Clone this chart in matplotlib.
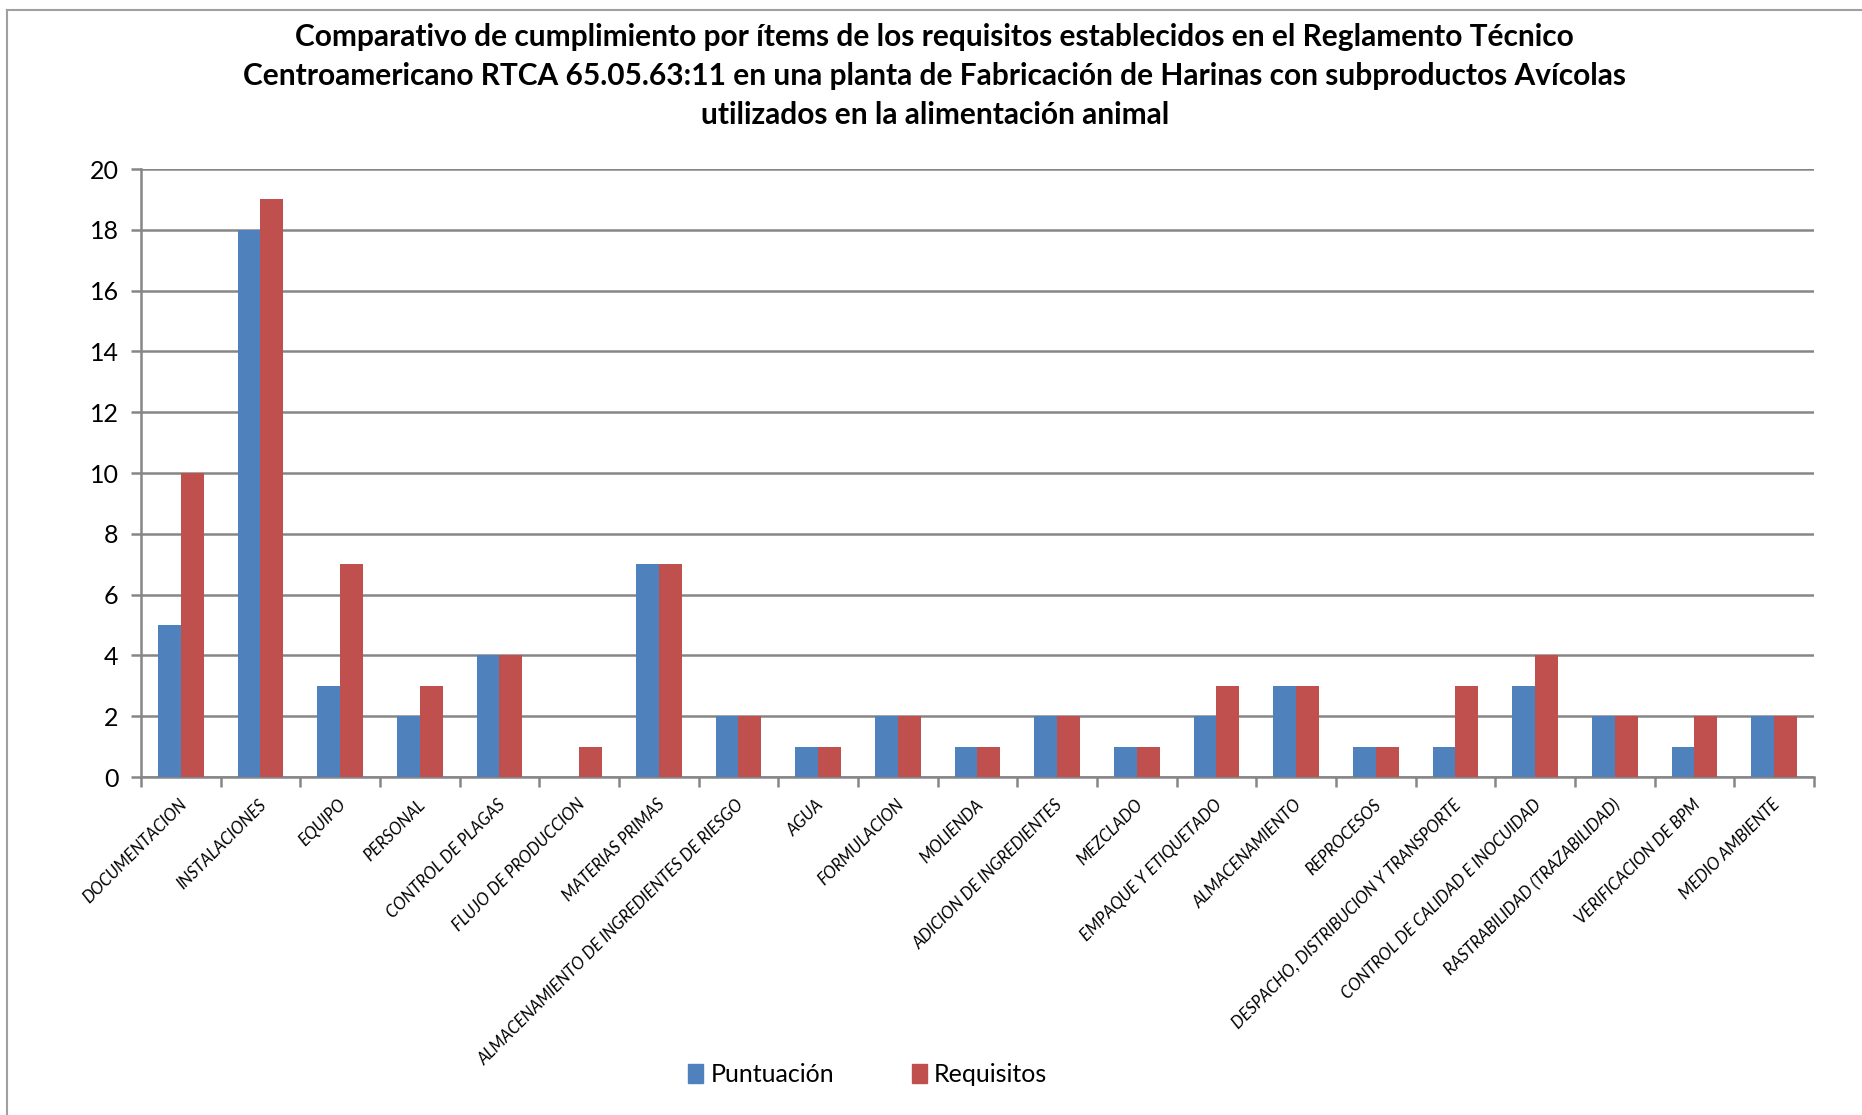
import numpy as np
import matplotlib
matplotlib.use("Agg")
import matplotlib.pyplot as plt
from matplotlib.lines import Line2D
from matplotlib.patches import Patch

"""Chart categories (x axis), in display order"""
CATEGORIES = [
    "DOCUMENTACION", "INSTALACIONES", "EQUIPO", "PERSONAL",
    "CONTROL DE PLAGAS", "FLUJO DE PRODUCCION", "MATERIAS PRIMAS",
    "ALMACENAMIENTO DE INGREDIENTES DE RIESGO", "AGUA", "FORMULACION",
    "MOLIENDA", "ADICION DE INGREDIENTES", "MEZCLADO",
    "EMPAQUE Y ETIQUETADO", "ALMACENAMIENTO", "REPROCESOS",
    "DESPACHO, DISTRIBUCION Y TRANSPORTE", "CONTROL DE CALIDAD E INOCUIDAD",
    "RASTRABILIDAD (TRAZABILIDAD)", "VERIFICACION DE BPM", "MEDIO AMBIENTE",
]

"""Score obtained per item"""
PUNTUACION = [5, 18, 3, 2, 4, 0, 7, 2, 1, 2, 1, 2, 1, 2, 3, 1, 1, 3, 2, 1, 2]

"""Number of requirements per item"""
REQUISITOS = [10, 19, 7, 3, 4, 1, 7, 2, 1, 2, 1, 2, 1, 3, 3, 1, 3, 4, 2, 2, 2]

Y_TICKS = [0, 2, 4, 6, 8, 10, 12, 14, 16, 18, 20]

TITLE = ("Comparativo de cumplimiento por ítems de los requisitos establecidos en el Reglamento Técnico\n"
         "Centroamericano RTCA 65.05.63:11 en una planta de Fabricación de Harinas con subproductos Avícolas\n"
         "utilizados en la alimentación animal")

BLUE = "#4F81BD"
RED = "#C0504D"
GRID = "#868686"
FONT = "Lato"

plt.rcParams["font.family"] = [FONT, "DejaVu Sans"]

fig = plt.figure(figsize=(18.62, 11.15), dpi=100)
ax = fig.add_axes([0.0757, 0.3031, 0.8985, 0.5453])

x = np.arange(len(CATEGORIES))
w = 1 / 3.5
ax.bar(x - w / 2, PUNTUACION, w, color=BLUE, zorder=3, label="Puntuación")
ax.bar(x + w / 2, REQUISITOS, w, color=RED, zorder=3, label="Requisitos")

ax.set_xlim(-0.5, len(CATEGORIES) - 0.5)
ax.set_ylim(0, 20)
ax.set_yticks(Y_TICKS)
ax.set_yticklabels([str(v) for v in Y_TICKS], fontsize=18)
ax.yaxis.grid(True, color=GRID, linewidth=1.8, zorder=0)
ax.set_axisbelow(True)

# ticks sit at category boundaries, labels at category centres
ax.set_xticks(np.arange(len(CATEGORIES) + 1) - 0.5)
ax.set_xticklabels([])
ax.tick_params(axis="x", length=7, width=1.8, color=GRID, direction="out")
ax.tick_params(axis="y", length=7, width=1.8, color=GRID, direction="out", pad=9)

for sp in ["top", "right"]:
    ax.spines[sp].set_visible(False)
for sp in ["left", "bottom"]:
    ax.spines[sp].set_color(GRID)
    ax.spines[sp].set_linewidth(1.8)

for i, name in enumerate(CATEGORIES):
    ax.annotate(name, xy=(i + 0.04, 0), xycoords=("data", "axes fraction"),
                xytext=(0, -25), textcoords="offset pixels",
                rotation=45, rotation_mode="anchor", ha="right", va="center",
                fontsize=12, style="italic")

fig.text(0.502, 0.979, TITLE, ha="center", va="top", fontsize=21.5,
         fontweight="bold", linespacing=1.46)

handles = [Patch(color=BLUE, label="Puntuación"), Patch(color=RED, label="Requisitos")]
fig.legend(handles=handles, loc="center", bbox_to_anchor=(0.466, 0.036),
           ncol=2, frameon=False, fontsize=18, handlelength=0.6, handleheight=0.8,
           handletextpad=0.3, columnspacing=3.1)

# outer chart frame (top and left edges visible)
fig.add_artist(Line2D([0.0038, 1.0], [0.991, 0.991], color="#A0A0A0", linewidth=1.5))
fig.add_artist(Line2D([0.0038, 0.0038], [0.0, 0.991], color="#A0A0A0", linewidth=1.5))

fig.savefig("out.png", dpi=100, facecolor="white")
